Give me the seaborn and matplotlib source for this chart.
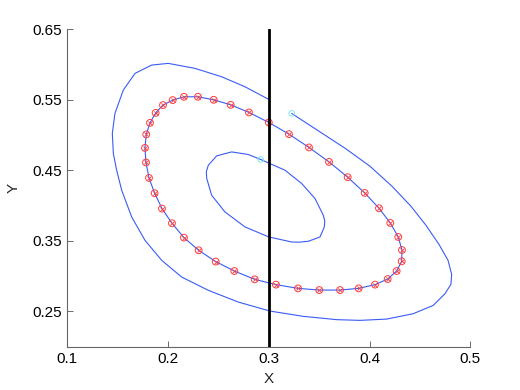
"""Periodic orbit and section line at x = 0.3."""
import matplotlib
matplotlib.use("Agg")
import matplotlib.pyplot as plt
import pandas as pd
import seaborn as sns

# outer trajectory: starts at the cyan point, ends on the section
outer_x = [0.3227, 0.3508, 0.3756, 0.4004, 0.4223, 0.4411, 0.4560, 0.4689, 0.4779,
           0.4815, 0.4808, 0.4749, 0.4633, 0.4434, 0.4170, 0.3905, 0.3674, 0.3342, 0.3012,
           0.2697, 0.2400, 0.2135, 0.1937, 0.1771, 0.1639, 0.1540, 0.1490, 0.1457, 0.1447,
           0.1473, 0.1556, 0.1672, 0.1838, 0.2002, 0.2268, 0.2532, 0.2764, 0.3000]
outer_y = [0.5307, 0.5045, 0.4814, 0.4558, 0.4274, 0.3990, 0.3720, 0.3450, 0.3223,
           0.3024, 0.2882, 0.2750, 0.2584, 0.2466, 0.2389, 0.2371, 0.2381, 0.2428, 0.2503,
           0.2631, 0.2797, 0.2986, 0.3223, 0.3507, 0.3838, 0.4217, 0.4501, 0.4739, 0.5023,
           0.5307, 0.5638, 0.5875, 0.5993, 0.6017, 0.5946, 0.5827, 0.5685, 0.5506]

# inner trajectory: closed loop from the second cyan point
inner_x = [0.2920, 0.3161, 0.3327, 0.3459, 0.3541, 0.3556, 0.3551, 0.3508, 0.3392, 0.3300,
           0.3227, 0.3002, 0.2764, 0.2565, 0.2433, 0.2384, 0.2380, 0.2400, 0.2483, 0.2632,
           0.2797, 0.2920]
inner_y = [0.4653, 0.4501, 0.4312, 0.4099, 0.3862, 0.3780, 0.3696, 0.3554, 0.3493, 0.3480,
           0.3483, 0.3554, 0.3696, 0.3909, 0.4146, 0.4384, 0.4480, 0.4572, 0.4705, 0.4761,
           0.4724, 0.4653]

# periodic orbit samples (red markers)
orbit_x = [0.3000, 0.3200, 0.3399, 0.3598, 0.3783, 0.3952, 0.4094, 0.4206, 0.4285, 0.4322,
           0.4319, 0.4269, 0.4180, 0.4054, 0.3892, 0.3707, 0.3501, 0.3290, 0.3071, 0.2860,
           0.2658, 0.2473, 0.2304, 0.2158, 0.2039, 0.1940, 0.1867, 0.1811, 0.1781, 0.1771,
           0.1784, 0.1821, 0.1877, 0.1950, 0.2046, 0.2158, 0.2297, 0.2453, 0.2622, 0.2803]
orbit_y = [0.5179, 0.5013, 0.4824, 0.4619, 0.4402, 0.4179, 0.3962, 0.3753, 0.3554, 0.3369,
           0.3209, 0.3071, 0.2957, 0.2878, 0.2825, 0.2801, 0.2801, 0.2825, 0.2878, 0.2953,
           0.3071, 0.3205, 0.3365, 0.3545, 0.3749, 0.3957, 0.4175, 0.4392, 0.4611, 0.4818,
           0.5009, 0.5173, 0.5315, 0.5425, 0.5496, 0.5543, 0.5543, 0.5500, 0.5429, 0.5321]

start_x = [0.3227, 0.2920]
start_y = [0.5307, 0.4653]

section_x = 0.3
x_ticks = [0.1, 0.2, 0.3, 0.4, 0.5]
y_ticks = [0.25, 0.35, 0.45, 0.55, 0.65]

sns.set_theme(style="white")
plt.rcParams["font.family"] = ["Liberation Sans", "DejaVu Sans"]

outer = pd.DataFrame({"x": outer_x, "y": outer_y})
inner = pd.DataFrame({"x": inner_x, "y": inner_y})
orbit = pd.DataFrame({"x": orbit_x + orbit_x[:1], "y": orbit_y + orbit_y[:1]})
starts = pd.DataFrame({"x": start_x, "y": start_y})

fig = plt.figure(figsize=(5.2, 3.9), dpi=100)
ax = fig.add_axes([0.1294, 0.1115, 0.775, 0.8133])

line_kw = dict(color="#3a5cf5", linewidth=0.8, sort=False, estimator=None, ax=ax)
sns.lineplot(data=outer, x="x", y="y", **line_kw)
sns.lineplot(data=inner, x="x", y="y", **line_kw)
sns.lineplot(data=orbit, x="x", y="y", **line_kw)

sns.scatterplot(data=orbit.iloc[:-1], x="x", y="y", marker="o", s=24, facecolor="none",
                edgecolor="#ff3b3b", linewidth=0.7, ax=ax, zorder=4)
sns.scatterplot(data=orbit.iloc[:-1], x="x", y="y", marker="x", s=9, color="#ff3b3b",
                linewidth=0.6, ax=ax, zorder=5)
sns.scatterplot(data=starts, x="x", y="y", marker="o", s=16, facecolor="none",
                edgecolor="#7fe8f0", linewidth=0.7, ax=ax, zorder=4)

ax.axvline(section_x, color="black", linewidth=2, zorder=6)

ax.set_xlim(0.1, 0.5)
ax.set_ylim(0.2, 0.65)
ax.set_xticks(x_ticks)
ax.set_xticklabels(["0.1", "0.2", "0.3", "0.4", "0.5"])
ax.set_yticks(y_ticks)
ax.set_yticklabels(["0.25", "0.35", "0.45", "0.55", "0.65"])
ax.tick_params(direction="in", length=4, width=0.6, color="#555555", labelsize=11,
               labelcolor="black", left=True, bottom=True, pad=4)
sns.despine(ax=ax)
for side in ("left", "bottom"):
    ax.spines[side].set_color("#666666")
    ax.spines[side].set_linewidth(0.8)

ax.set_xlabel("X", fontsize=11, labelpad=4)
ax.set_ylabel("Y", fontsize=11, labelpad=8)

fig.savefig("out.png", dpi=100)
